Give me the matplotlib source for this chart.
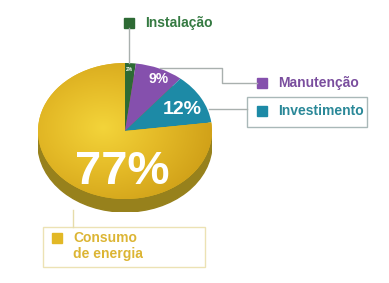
import numpy as np
import matplotlib; matplotlib.use('Agg')
import matplotlib.pyplot as plt
from matplotlib.colors import LinearSegmentedColormap
from matplotlib.patches import Circle, Rectangle

labels = ['Instalação', 'Manutenção', 'Investimento', 'Consumo\nde energia']
values = [2, 9, 12, 77]
colors = ['#2d6a34', '#8550ad', '#1d8aa6', '#e2b826']
text_colors = ['#357a42', '#7a4e9e', '#2a8898', '#dcb534']

W, H = 389, 283
fig = plt.figure(figsize=(W / 100, H / 100), dpi=100)
fig.patch.set_facecolor('white')
plt.rcParams['font.family'] = ['Liberation Sans', 'DejaVu Sans']

# pie: ellipse centre (125,131) px, rx 87, ry 68, rim 13 px
cx, cy, rx, ry, rim_px = 125, 131, 87, 68, 13
rim = rim_px / ry
ax = fig.add_axes([(cx - rx) / W, 1 - (cy + ry + rim_px) / H, 2 * rx / W, (2 * ry + rim_px) / H])
ax.axis('off')

# side of the "3d" disc
side = '#97811c'
ax.add_patch(Circle((0, -rim), 1, color=side, zorder=0))
ax.add_patch(Rectangle((-1, -rim), 2, rim, color=side, zorder=0))

wedges, _ = ax.pie(values, colors=colors, startangle=90, counterclock=False,
                   radius=1, wedgeprops=dict(linewidth=0))
for w in wedges:
    w.set_zorder(2)

# soft radial shading on the yellow slice
gx, gy = np.meshgrid(np.linspace(-1, 1, 200), np.linspace(-1, 1, 200))
d = np.sqrt((gx + 0.25) ** 2 + (gy - 0.05) ** 2)
cmap = LinearSegmentedColormap.from_list('g', ['#f3d43a', '#e4ba27', '#d0a018'])
im = ax.imshow(d, extent=[-1, 1, -1, 1], origin='lower', cmap=cmap, vmin=0, vmax=1.3, zorder=3)
im.set_clip_path(wedges[3])

ax.set_aspect('auto')
ax.set_xlim(-1, 1)
ax.set_ylim(-1 - rim, 1)

pct = [f'{v}%' for v in values]
ax.text(0.05, 0.9, pct[0], color='white', fontsize=3.5, fontweight='bold', ha='center', va='center', zorder=5)
ax.text(0.39, 0.77, pct[1], color='white', fontsize=10, fontweight='bold', ha='center', va='center', zorder=5)
ax.text(0.66, 0.31, pct[2], color='white', fontsize=14, fontweight='bold', ha='center', va='center', zorder=5)
ax.text(-0.03, -0.6, pct[3], color='white', fontsize=34, fontweight='bold', ha='center', va='center', zorder=5)

# callouts in pixel coordinates
ov = fig.add_axes([0, 0, 1, 1], facecolor='none')
ov.set_xlim(0, W)
ov.set_ylim(H, 0)
ov.axis('off')
line = dict(color='#a9b0ae', lw=1.0)

ov.plot([129, 129], [28, 63], **line)
ov.plot([160, 222, 222, 257], [68, 68, 83, 83], **line)
ov.plot([209, 247], [109, 109], **line)
ov.add_patch(Rectangle((247, 97), 120, 30, fill=False, ec='#a9b8b8', lw=1.0))
ov.plot([73, 73], [210, 227], color='#e6dcaa', lw=1.0)
ov.add_patch(Rectangle((43, 227), 162, 40, fill=False, ec='#ece2b4', lw=1.0))

sq = [(124, 18), (257, 78), (257, 106), (52, 233)]
tx = [(145, 23), (278, 83), (278, 111), (73, 246)]
for i in range(4):
    ov.add_patch(Rectangle(sq[i], 10, 10, color=colors[i]))
    ov.text(tx[i][0], tx[i][1], labels[i], color=text_colors[i], fontsize=10,
            fontweight='bold', ha='left', va='center', linespacing=1.15)

fig.savefig('out.png', dpi=100)
